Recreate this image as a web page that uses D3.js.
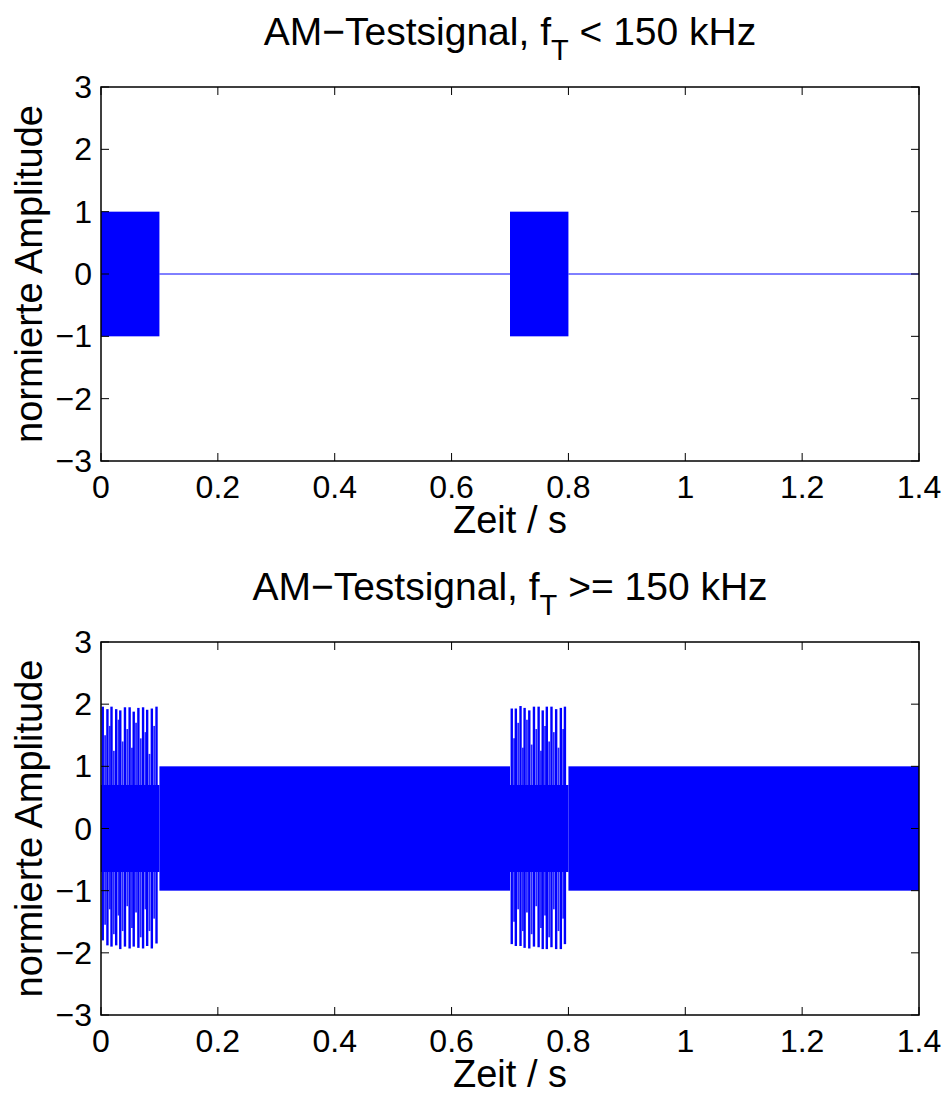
<!DOCTYPE html>
<html>
<head>
<meta charset="utf-8">
<script src="https://cdn.jsdelivr.net/npm/d3@7"></script>
<style>
  html, body { margin: 0; padding: 0; background: #fff; }
  svg text { font-family: "Liberation Sans", Arial, Helvetica, sans-serif; fill: #000; }
</style>
</head>
<body>
<svg id="fig" width="945" height="1095"></svg>
<script>
// ---- data ----
const xTicks = [0, 0.2, 0.4, 0.6, 0.8, 1, 1.2, 1.4];
const xTickLabels = ["0", "0.2", "0.4", "0.6", "0.8", "1", "1.2", "1.4"];
const yTicks = [-3, -2, -1, 0, 1, 2, 3];
const yTickLabels = ["\u22123", "\u22122", "\u22121", "0", "1", "2", "3"];

// burst windows (s) and carrier amplitude
const burstStart = [0, 0.7];
const burstEnd = [0.1, 0.8];
const carrierAmp = 1;
const coreAmp = 0.7;           // dense core of the two-tone burst

// two-tone burst (lower plot): dominant peaks
const peakTime = [0.003, 0.011, 0.018, 0.026, 0.033, 0.041, 0.049, 0.056, 0.064, 0.072, 0.079, 0.087, 0.095,
                  0.703, 0.710, 0.718, 0.725, 0.733, 0.741, 0.749, 0.756, 0.763, 0.771, 0.779, 0.787, 0.794];
const peakUpper = [1.96, 1.92, 1.96, 1.92, 1.90, 1.95, 1.95, 1.88, 1.94, 1.95, 1.91, 1.93, 1.96,
                   1.93, 1.93, 1.97, 1.94, 1.90, 1.96, 1.96, 1.90, 1.96, 1.96, 1.92, 1.94, 1.96];
const peakLower = [-1.80, -1.88, -1.90, -1.88, -1.94, -1.90, -1.93, -1.90, -1.92, -1.93, -1.89, -1.93, -1.85,
                   -1.86, -1.89, -1.89, -1.92, -1.93, -1.90, -1.91, -1.94, -1.94, -1.91, -1.94, -1.94, -1.86];

// two-tone burst: weaker intermediate peaks
const midTime = [0.007, 0.015, 0.022, 0.030, 0.037, 0.045, 0.053, 0.060, 0.068, 0.076, 0.083, 0.091,
                 0.707, 0.714, 0.722, 0.729, 0.737, 0.745, 0.753, 0.760, 0.767, 0.775, 0.783, 0.791];
const midUpper = [1.50, 1.65, 1.25, 1.75, 1.40, 1.60, 1.30, 1.70, 1.45, 1.55, 1.20, 1.65,
                  1.45, 1.70, 1.30, 1.75, 1.35, 1.60, 1.25, 1.65, 1.40, 1.55, 1.30, 1.60];
const midLower = [-1.55, -1.30, -1.70, -1.40, -1.65, -1.25, -1.60, -1.35, -1.75, -1.30, -1.65, -1.45,
                  -1.50, -1.30, -1.65, -1.35, -1.70, -1.25, -1.60, -1.40, -1.75, -1.30, -1.65, -1.45];

// ---- layout ----
const svg = d3.select("#fig");
const blue = "#0000ff";
const left = 101, right = 919;
const panels = [
  { top: 87, bottom: 461, title: ["AM\u2212Testsignal, f", "T", " < 150 kHz"] },
  { top: 642, bottom: 1015, title: ["AM\u2212Testsignal, f", "T", " >= 150 kHz"] }
];

const x = d3.scaleLinear().domain([0, 1.4]).range([left, right]);

panels.forEach((p, i) => {
  const y = d3.scaleLinear().domain([-3, 3]).range([p.bottom, p.top]);
  const g = svg.append("g");
  const clipId = "clip" + i;
  svg.append("clipPath").attr("id", clipId).append("rect")
    .attr("x", left).attr("y", p.top).attr("width", right - left).attr("height", p.bottom - p.top);
  const plot = g.append("g").attr("clip-path", `url(#${clipId})`);

  // gaps between bursts
  const gaps = [];
  let prev = 0;
  burstStart.forEach((s, k) => { if (s > prev) gaps.push([prev, s]); prev = burstEnd[k]; });
  if (prev < 1.4) gaps.push([prev, 1.4]);

  if (i === 0) {
    // lower-frequency test signal: carrier only during the bursts
    burstStart.forEach((s, k) => {
      plot.append("rect")
        .attr("x", x(s)).attr("width", x(burstEnd[k]) - x(s))
        .attr("y", y(carrierAmp)).attr("height", y(-carrierAmp) - y(carrierAmp))
        .attr("fill", blue);
    });
    gaps.forEach(([a, b]) => {
      plot.append("line")
        .attr("x1", x(a)).attr("x2", x(b)).attr("y1", y(0)).attr("y2", y(0))
        .attr("stroke", blue).attr("stroke-width", 1);
    });
  } else {
    // carrier outside the bursts
    gaps.forEach(([a, b]) => {
      plot.append("rect")
        .attr("x", x(a)).attr("width", x(b) - x(a))
        .attr("y", y(carrierAmp)).attr("height", y(-carrierAmp) - y(carrierAmp))
        .attr("fill", blue);
    });
    // dense core inside the bursts
    burstStart.forEach((s, k) => {
      plot.append("rect")
        .attr("x", x(s)).attr("width", x(burstEnd[k]) - x(s))
        .attr("y", y(coreAmp)).attr("height", y(-coreAmp) - y(coreAmp))
        .attr("fill", blue);
    });
    const seg = d3.line().x(d => x(d[0])).y(d => y(d[1]));
    midTime.forEach((t, k) => {
      plot.append("path")
        .attr("d", seg([[t, midLower[k]], [t, midUpper[k]]]))
        .attr("stroke", blue).attr("stroke-opacity", 0.85).attr("stroke-width", 1.8).attr("fill", "none");
    });
    peakTime.forEach((t, k) => {
      plot.append("path")
        .attr("d", seg([[t, peakLower[k]], [t, peakUpper[k]]]))
        .attr("stroke", blue).attr("stroke-width", 2.4).attr("fill", "none");
    });
  }

  // box
  g.append("rect")
    .attr("x", left).attr("y", p.top).attr("width", right - left).attr("height", p.bottom - p.top)
    .attr("fill", "none").attr("stroke", "#000").attr("stroke-width", 1.5);

  // ticks (inward on all four sides)
  const tl = 8;
  xTicks.forEach(t => {
    g.append("line").attr("x1", x(t)).attr("x2", x(t)).attr("y1", p.bottom).attr("y2", p.bottom - tl)
      .attr("stroke", "#000").attr("stroke-width", 1);
    g.append("line").attr("x1", x(t)).attr("x2", x(t)).attr("y1", p.top).attr("y2", p.top + tl)
      .attr("stroke", "#000").attr("stroke-width", 1);
  });
  yTicks.forEach(t => {
    g.append("line").attr("x1", left).attr("x2", left + tl).attr("y1", y(t)).attr("y2", y(t))
      .attr("stroke", "#000").attr("stroke-width", 1);
    g.append("line").attr("x1", right).attr("x2", right - tl).attr("y1", y(t)).attr("y2", y(t))
      .attr("stroke", "#000").attr("stroke-width", 1);
  });

  // tick labels
  xTicks.forEach((t, k) => {
    g.append("text").attr("x", x(t)).attr("y", p.bottom + 37)
      .attr("text-anchor", "middle").attr("font-size", 32).text(xTickLabels[k]);
  });
  yTicks.forEach((t, k) => {
    g.append("text").attr("x", left - 9).attr("y", y(t) + 11)
      .attr("text-anchor", "end").attr("font-size", 32).text(yTickLabels[k]);
  });

  // axis labels
  g.append("text").attr("x", (left + right) / 2).attr("y", p.bottom + 72)
    .attr("text-anchor", "middle").attr("font-size", 38).text("Zeit / s");
  g.append("text")
    .attr("transform", `translate(42,${(p.top + p.bottom) / 2}) rotate(-90)`)
    .attr("text-anchor", "middle").attr("font-size", 38).text("normierte Amplitude");

  // title with subscript
  const tt = g.append("text").attr("x", (left + right) / 2).attr("y", p.top - 42)
    .attr("text-anchor", "middle").attr("font-size", 39);
  tt.append("tspan").text(p.title[0]);
  tt.append("tspan").attr("dy", 15).attr("font-size", 29).text(p.title[1]);
  tt.append("tspan").attr("dy", -15).text(p.title[2]);
});
</script>
</body>
</html>
